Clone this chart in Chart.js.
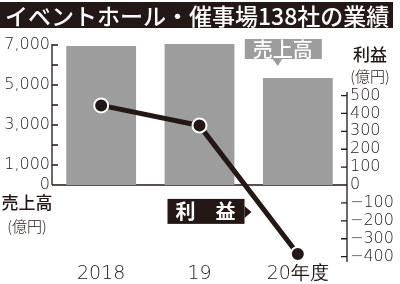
<!DOCTYPE html>
<html>
<head>
<meta charset="utf-8">
<script src="https://cdn.jsdelivr.net/npm/chart.js@4"></script>
<style>
  html, body { margin: 0; padding: 0; background: #fff; }
  #wrap { position: relative; width: 400px; height: 284px; }
  #title {
    position: absolute; left: 0; top: 2px; width: 393px; height: 26px;
    background: #231815; color: #fff; box-sizing: border-box; padding-left: 5px;
    font: 500 23px "Noto Sans CJK JP"; line-height: 26px; white-space: nowrap; z-index: 2;
  }
  canvas { position: absolute; left: 0; top: 0; }
</style>
</head>
<body>
<div id="wrap">
  <div id="title">イベントホール・催事場138社の業績</div>
  <canvas id="chart" width="400" height="284"></canvas>
</div>
<script>
const years = ['2018', '19', '20年度'];
const sales = [6950, 7100, 5350];      // 売上高（億円）
const profit = [445, 332, -385];       // 利益（億円）
const salesTicks = [0, 1000, 2000, 3000, 4000, 5000, 6000, 7000];
const salesLabelled = [0, 1000, 3000, 5000, 7000];
const profitTicks = [-400, -300, -200, -100, 0, 100, 200, 300, 400, 500];

const ink = '#231815';
const gray = '#9d9d9d';
const tickFont = { family: 'DejaVu Sans', size: 16, weight: 200 };

const fmt = v => String(v).replace(/\B(?=(\d{3})+(?!\d))/g, ',');

// axis lines, inward tick marks, zero line
const axesPlugin = {
  id: 'axes',
  beforeDatasetsDraw(chart) {
    const { ctx, chartArea: a, scales: { y, y1 } } = chart;
    const zero = y.getPixelForValue(0);
    ctx.save();
    ctx.strokeStyle = ink;
    ctx.lineWidth = 1.3;
    ctx.beginPath();
    ctx.moveTo(a.left, a.top);
    ctx.lineTo(a.left, zero);
    ctx.moveTo(a.left, zero);
    ctx.lineTo(a.right, zero);
    ctx.moveTo(a.right, y1.getPixelForValue(520));
    ctx.lineTo(a.right, a.bottom);
    salesTicks.forEach(v => {
      const p = y.getPixelForValue(v);
      ctx.moveTo(a.left, p);
      ctx.lineTo(a.left + 6, p);
    });
    profitTicks.forEach(v => {
      const p = y1.getPixelForValue(v);
      ctx.moveTo(a.right - 6, p);
      ctx.lineTo(a.right, p);
    });
    ctx.stroke();
    ctx.restore();
  },
  afterDatasetsDraw(chart) {
    const { ctx, chartArea: a, scales: { x, y, y1 } } = chart;
    ctx.save();
    ctx.textAlign = 'center';
    ctx.textBaseline = 'middle';

    // axis captions
    ctx.fillStyle = ink;
    ctx.font = '500 17px "Noto Sans CJK JP"';
    ctx.fillText('売上高', 27, 203);
    ctx.fillText('利益', 370, 55);
    ctx.font = '300 15px "Noto Sans CJK JP"';
    ctx.fillText('(億円)', 27, 226);
    ctx.fillText('(億円)', 370, 76);

    // 売上高 tag above the last bar
    const bx = x.getPixelForValue(2);
    const by = y.getPixelForValue(sales[2]);
    ctx.fillStyle = gray;
    ctx.fillRect(bx - 53, by - 39, 77, 20);
    ctx.beginPath();
    ctx.moveTo(bx - 26, by - 20);
    ctx.lineTo(bx - 15, by - 20);
    ctx.lineTo(bx - 20, by - 12);
    ctx.closePath();
    ctx.fill();
    ctx.fillStyle = '#fff';
    ctx.font = '500 20px "Noto Sans CJK JP"';
    ctx.fillText('売上高', bx - 15, by - 29);

    // 利益 tag
    const lx = x.getPixelForValue(1);
    const ly = y1.getPixelForValue(-150);
    ctx.fillStyle = ink;
    ctx.fillRect(lx - 32, ly - 13, 77, 25);
    ctx.beginPath();
    ctx.moveTo(lx + 45, ly - 6);
    ctx.lineTo(lx + 52, ly);
    ctx.lineTo(lx + 45, ly + 6);
    ctx.closePath();
    ctx.fill();
    ctx.fillStyle = '#fff';
    ctx.font = 'bold 20px "Noto Sans CJK JP"';
    ctx.fillText('利　益', lx + 6, ly);
    ctx.restore();
  }
};

new Chart(document.getElementById('chart'), {
  data: {
    labels: years,
    datasets: [
      {
        type: 'line',
        data: profit,
        yAxisID: 'y1',
        order: 0,
        borderColor: ink,
        borderWidth: 5,
        pointRadius: 7,
        pointBackgroundColor: ink,
        pointBorderColor: '#fff',
        pointBorderWidth: 2
      },
      {
        type: 'bar',
        data: sales,
        yAxisID: 'y',
        order: 1,
        backgroundColor: gray,
        barPercentage: 0.71,
        categoryPercentage: 1
      }
    ]
  },
  options: {
    responsive: false,
    animation: false,
    devicePixelRatio: 1,
    layout: { padding: { top: 44, left: 0, right: 0, bottom: 0 } },
    plugins: { legend: { display: false }, tooltip: { enabled: false } },
    scales: {
      x: {
        grid: { display: false, drawTicks: false },
        border: { display: false },
        ticks: { color: ink, font: { family: 'DejaVu Sans', size: 19, weight: 200 }, padding: 1 },
        afterFit: s => { s.height = 22; }
      },
      y: {
        position: 'left',
        min: -3850,
        max: 7050,
        grid: { display: false, drawTicks: false },
        border: { display: false },
        afterBuildTicks: s => { s.ticks = salesTicks.map(v => ({ value: v })); },
        ticks: {
          color: ink, font: tickFont, padding: 2,
          callback: v => salesLabelled.includes(v) ? fmt(v) : ''
        },
        afterFit: s => { s.width = 52; }
      },
      y1: {
        position: 'right',
        min: -430,
        max: 788,
        grid: { display: false, drawTicks: false },
        border: { display: false },
        afterBuildTicks: s => { s.ticks = profitTicks.map(v => ({ value: v })); },
        ticks: {
          color: ink, font: tickFont, padding: 3,
          callback: v => v < 0 ? '−' + (-v) : String(v)
        },
        afterFit: s => { s.width = 53; }
      }
    }
  },
  plugins: [axesPlugin]
});
</script>
</body>
</html>
